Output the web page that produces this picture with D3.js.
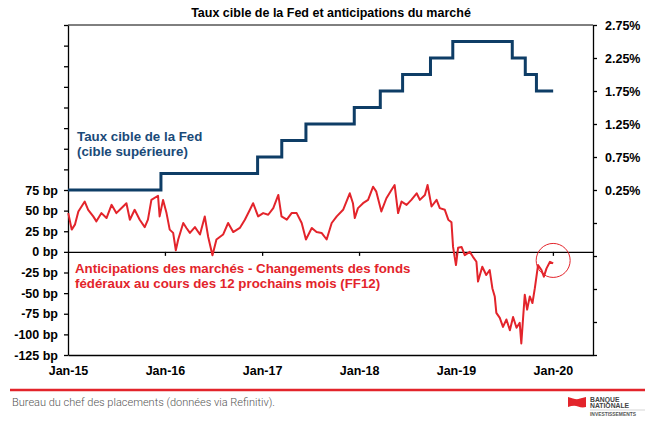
<!DOCTYPE html>
<html>
<head>
<meta charset="utf-8">
<script src="https://cdn.jsdelivr.net/npm/d3@7"></script>
<style>
  body { margin: 0; background: #fff; }
  svg { display: block; font-family: Arial, "Liberation Sans", sans-serif; }
</style>
</head>
<body>
<div id="chart"></div>
<script>
// Fed target rate (upper bound), step changes
const fedDates = ["2015-01-01", "2015-12-17", "2016-12-15", "2017-03-16", "2017-06-15", "2017-12-14",
  "2018-03-22", "2018-06-14", "2018-09-27", "2018-12-20", "2019-08-01", "2019-09-19", "2019-10-31", "2020-01-02"];
const fedRates = [0.25, 0.50, 0.75, 1.00, 1.25, 1.50, 1.75, 2.00, 2.25, 2.50, 2.25, 2.00, 1.75, 1.75];

// FF12 market expectations (bp)
const ffDates = ["2015-01-02", "2015-01-15", "2015-01-27", "2015-02-09", "2015-03-05", "2015-03-18", "2015-04-06",
  "2015-04-18", "2015-05-07", "2015-05-26", "2015-06-14", "2015-07-02", "2015-07-15", "2015-08-09", "2015-08-22",
  "2015-09-09", "2015-09-28", "2015-10-17", "2015-10-29", "2015-11-11", "2015-12-06", "2015-12-12", "2015-12-25",
  "2016-01-07", "2016-01-19", "2016-02-01", "2016-02-11", "2016-02-20", "2016-03-10", "2016-03-22", "2016-04-04",
  "2016-04-23", "2016-05-12", "2016-05-30", "2016-06-12", "2016-06-28", "2016-07-13", "2016-08-07", "2016-08-26",
  "2016-09-14", "2016-10-09", "2016-10-28", "2016-11-16", "2016-11-28", "2016-12-17", "2017-01-05", "2017-01-24",
  "2017-02-12", "2017-03-03", "2017-03-15", "2017-04-04", "2017-04-22", "2017-05-11", "2017-05-30", "2017-06-15",
  "2017-07-07", "2017-07-25", "2017-08-13", "2017-09-01", "2017-09-20", "2017-10-09", "2017-11-02", "2017-11-27",
  "2017-12-09", "2017-12-16", "2017-12-28", "2018-01-16", "2018-02-04", "2018-02-23", "2018-03-07", "2018-03-26",
  "2018-04-14", "2018-05-03", "2018-05-15", "2018-05-28", "2018-06-10", "2018-06-29", "2018-07-17", "2018-08-06",
  "2018-08-18", "2018-09-06", "2018-09-16", "2018-10-01", "2018-10-20", "2018-11-01", "2018-11-20", "2018-12-03",
  "2018-12-15", "2018-12-21", "2019-01-01", "2019-01-09", "2019-01-22", "2019-02-03", "2019-02-22", "2019-03-06",
  "2019-03-19", "2019-03-25", "2019-04-10", "2019-04-25", "2019-05-08", "2019-05-18", "2019-05-27", "2019-06-02",
  "2019-06-15", "2019-06-27", "2019-07-10", "2019-07-23", "2019-08-04", "2019-08-17", "2019-08-29", "2019-09-04",
  "2019-09-11", "2019-09-17", "2019-09-26", "2019-10-06", "2019-10-16", "2019-10-25", "2019-11-06", "2019-11-19",
  "2019-11-28", "2019-12-08", "2019-12-21", "2020-01-02"];
const ffValues = [47, 27, 33, 49, 61, 51, 43, 37, 47, 41, 57, 47, 51, 59, 39,
  51, 39, 30, 39, 63, 68, 43, 63, 47, 27, 23, 2, 15, 35, 29, 23,
  30, 21, 43, 18, -4, 15, 21, 35, 24, 29, 39, 51, 59, 43, 47, 45,
  53, 69, 43, 39, 47, 47, 35, 15, 29, 24, 23, 15, 35, 43, 51, 71,
  59, 41, 53, 59, 63, 79, 73, 49, 65, 75, 81, 47, 61, 57, 63, 71,
  63, 69, 81, 55, 63, 53, 51, 39, 36, 6, -16, 5, 6, -4, 0, -6,
  -12, -36, -18, -28, -22, -44, -54, -74, -80, -91, -82, -95, -79, -92, -86, -111,
  -79, -52, -70, -54, -62, -44, -16, -22, -30, -20, -12, -14];

const leftTicks = [-125, -100, -75, -50, -25, 0, 25, 50, 75, 100, 125, 150, 175, 200, 225, 250, 275];
const rightTicks = [-2.25, -1.75, -1.25, -0.75, -0.25, 0.25, 0.75, 1.25, 1.75, 2.25, 2.75];
const yearTicks = ["2015-01-01", "2016-01-01", "2017-01-01", "2018-01-01", "2019-01-01", "2020-01-01"];

const W = 662, H = 426;
const margin = {left: 68, right: 593, top: 25, bottom: 355};
const parse = d3.timeParse("%Y-%m-%d");
const blue = "#0e3d66", red = "#e3242b";

const svg = d3.select("#chart").append("svg")
  .attr("width", W).attr("height", H);

// scales
const x = d3.scaleTime()
  .domain([parse("2015-01-01"), parse("2020-05-31")])
  .range([margin.left, margin.right]);
const yL = d3.scaleLinear().domain([-125, 275]).range([margin.bottom, margin.top]);
const yR = d3.scaleLinear().domain([-2.25, 2.75]).range([margin.bottom, margin.top]);

// title
svg.append("text")
  .attr("x", 331).attr("y", 17)
  .attr("text-anchor", "middle")
  .style("font-size", "12.5px").style("font-weight", "bold")
  .text("Taux cible de la Fed et anticipations du marché");

// frame top
svg.append("line")
  .attr("x1", margin.left).attr("x2", margin.right).attr("y1", margin.top).attr("y2", margin.top)
  .attr("stroke", "#000").attr("stroke-width", 1);

// left axis
const gL = svg.append("g")
  .attr("transform", `translate(${margin.left},0)`)
  .call(d3.axisLeft(yL).tickValues(leftTicks).tickSize(4).tickSizeOuter(0).tickPadding(6)
    .tickFormat(d => d <= 75 ? d + " bp" : ""));

// right axis
const gR = svg.append("g")
  .attr("transform", `translate(${margin.right},0)`)
  .call(d3.axisRight(yR).tickValues(rightTicks).tickSize(4).tickSizeOuter(0).tickPadding(8)
    .tickFormat(d => d >= 0.25 ? d.toFixed(2) + "%" : ""));

// bottom axis (labels only)
const gB = svg.append("g")
  .attr("transform", `translate(0,${margin.bottom})`)
  .call(d3.axisBottom(x).tickValues(yearTicks.map(parse)).tickSize(0).tickSizeOuter(0).tickPadding(11)
    .tickFormat(d3.timeFormat("%b-%y")));

// zero line with year ticks
const gZ = svg.append("g")
  .attr("transform", `translate(0,${yL(0)})`)
  .call(d3.axisBottom(x).tickValues(yearTicks.slice(1).map(parse)).tickSize(4).tickSizeOuter(0)
    .tickFormat(""));

[gL, gR, gB, gZ].forEach(g => {
  g.selectAll("path, line").attr("stroke", "#000").attr("stroke-width", 1.3);
  g.selectAll("text").style("font-size", "12.5px").style("font-weight", "bold").attr("fill", "#000")
    .style("font-family", "Arial, 'Liberation Sans', sans-serif");
});

// Fed step line
const fedData = fedDates.map((d, i) => ({date: parse(d), v: fedRates[i]}));
svg.append("path")
  .datum(fedData)
  .attr("fill", "none")
  .attr("stroke", blue)
  .attr("stroke-width", 3)
  .attr("d", d3.line().curve(d3.curveStepAfter).x(d => x(d.date)).y(d => yR(d.v)));

// FF12 line
const ffData = ffDates.map((d, i) => ({date: parse(d), v: ffValues[i]}));
svg.append("path")
  .datum(ffData)
  .attr("fill", "none")
  .attr("stroke", red)
  .attr("stroke-width", 2)
  .attr("stroke-linejoin", "round")
  .attr("d", d3.line().x(d => x(d.date)).y(d => yL(d.v)));

// highlight circle on last value
const last = ffData[ffData.length - 1];
svg.append("circle")
  .attr("cx", x(last.date)).attr("cy", yL(last.v) - 3)
  .attr("r", 17)
  .attr("fill", "none").attr("stroke", red).attr("stroke-width", 1);

// series labels
svg.append("text")
  .attr("x", 77).attr("y", 141)
  .attr("fill", "#1a4a78")
  .style("font-size", "13.3px").style("font-weight", "bold")
  .selectAll("tspan")
  .data(["Taux cible de la Fed", "(cible supérieure)"])
  .join("tspan")
    .attr("x", 77).attr("dy", (d, i) => i ? 15 : 0)
    .text(d => d);

svg.append("text")
  .attr("x", 75).attr("y", 273)
  .attr("fill", red)
  .style("font-size", "13.3px").style("font-weight", "bold")
  .selectAll("tspan")
  .data(["Anticipations des marchés - Changements des fonds", "fédéraux au cours des 12 prochains mois (FF12)"])
  .join("tspan")
    .attr("x", 75).attr("dy", (d, i) => i ? 15 : 0)
    .text(d => d);

// footer
svg.append("line")
  .attr("x1", 10).attr("x2", 645).attr("y1", 390).attr("y2", 390)
  .attr("stroke", "#e3242b").attr("stroke-width", 2.5);

svg.append("text")
  .attr("x", 12).attr("y", 406)
  .attr("fill", "#555")
  .style("font-family", "Roboto, sans-serif")
  .style("font-size", "11px")
  .style("font-weight", "300")
  .text("Bureau du chef des placements (données via Refinitiv).");

// logo
const logo = svg.append("g");
logo.append("path")
  .attr("d", "M568,397 L573,398.5 Q577,400 580,398.5 L586,397 L586,407 Q582,408 578,406.5 Q574,405 568,407 Z")
  .attr("fill", "#e3242b");
logo.append("text").attr("x", 590).attr("y", 402)
  .style("font-size", "6.8px").style("font-weight", "bold").attr("fill", "#444").text("BANQUE");
logo.append("text").attr("x", 590).attr("y", 408)
  .style("font-size", "6.8px").style("font-weight", "bold").attr("fill", "#444").text("NATIONALE");
logo.append("line").attr("x1", 590).attr("x2", 645).attr("y1", 410).attr("y2", 410)
  .attr("stroke", "#bbb").attr("stroke-width", 0.6);
logo.append("text").attr("x", 590).attr("y", 415.5)
  .style("font-size", "4.9px").style("font-weight", "bold").attr("fill", "#555").text("INVESTISSEMENTS");
</script>
</body>
</html>
